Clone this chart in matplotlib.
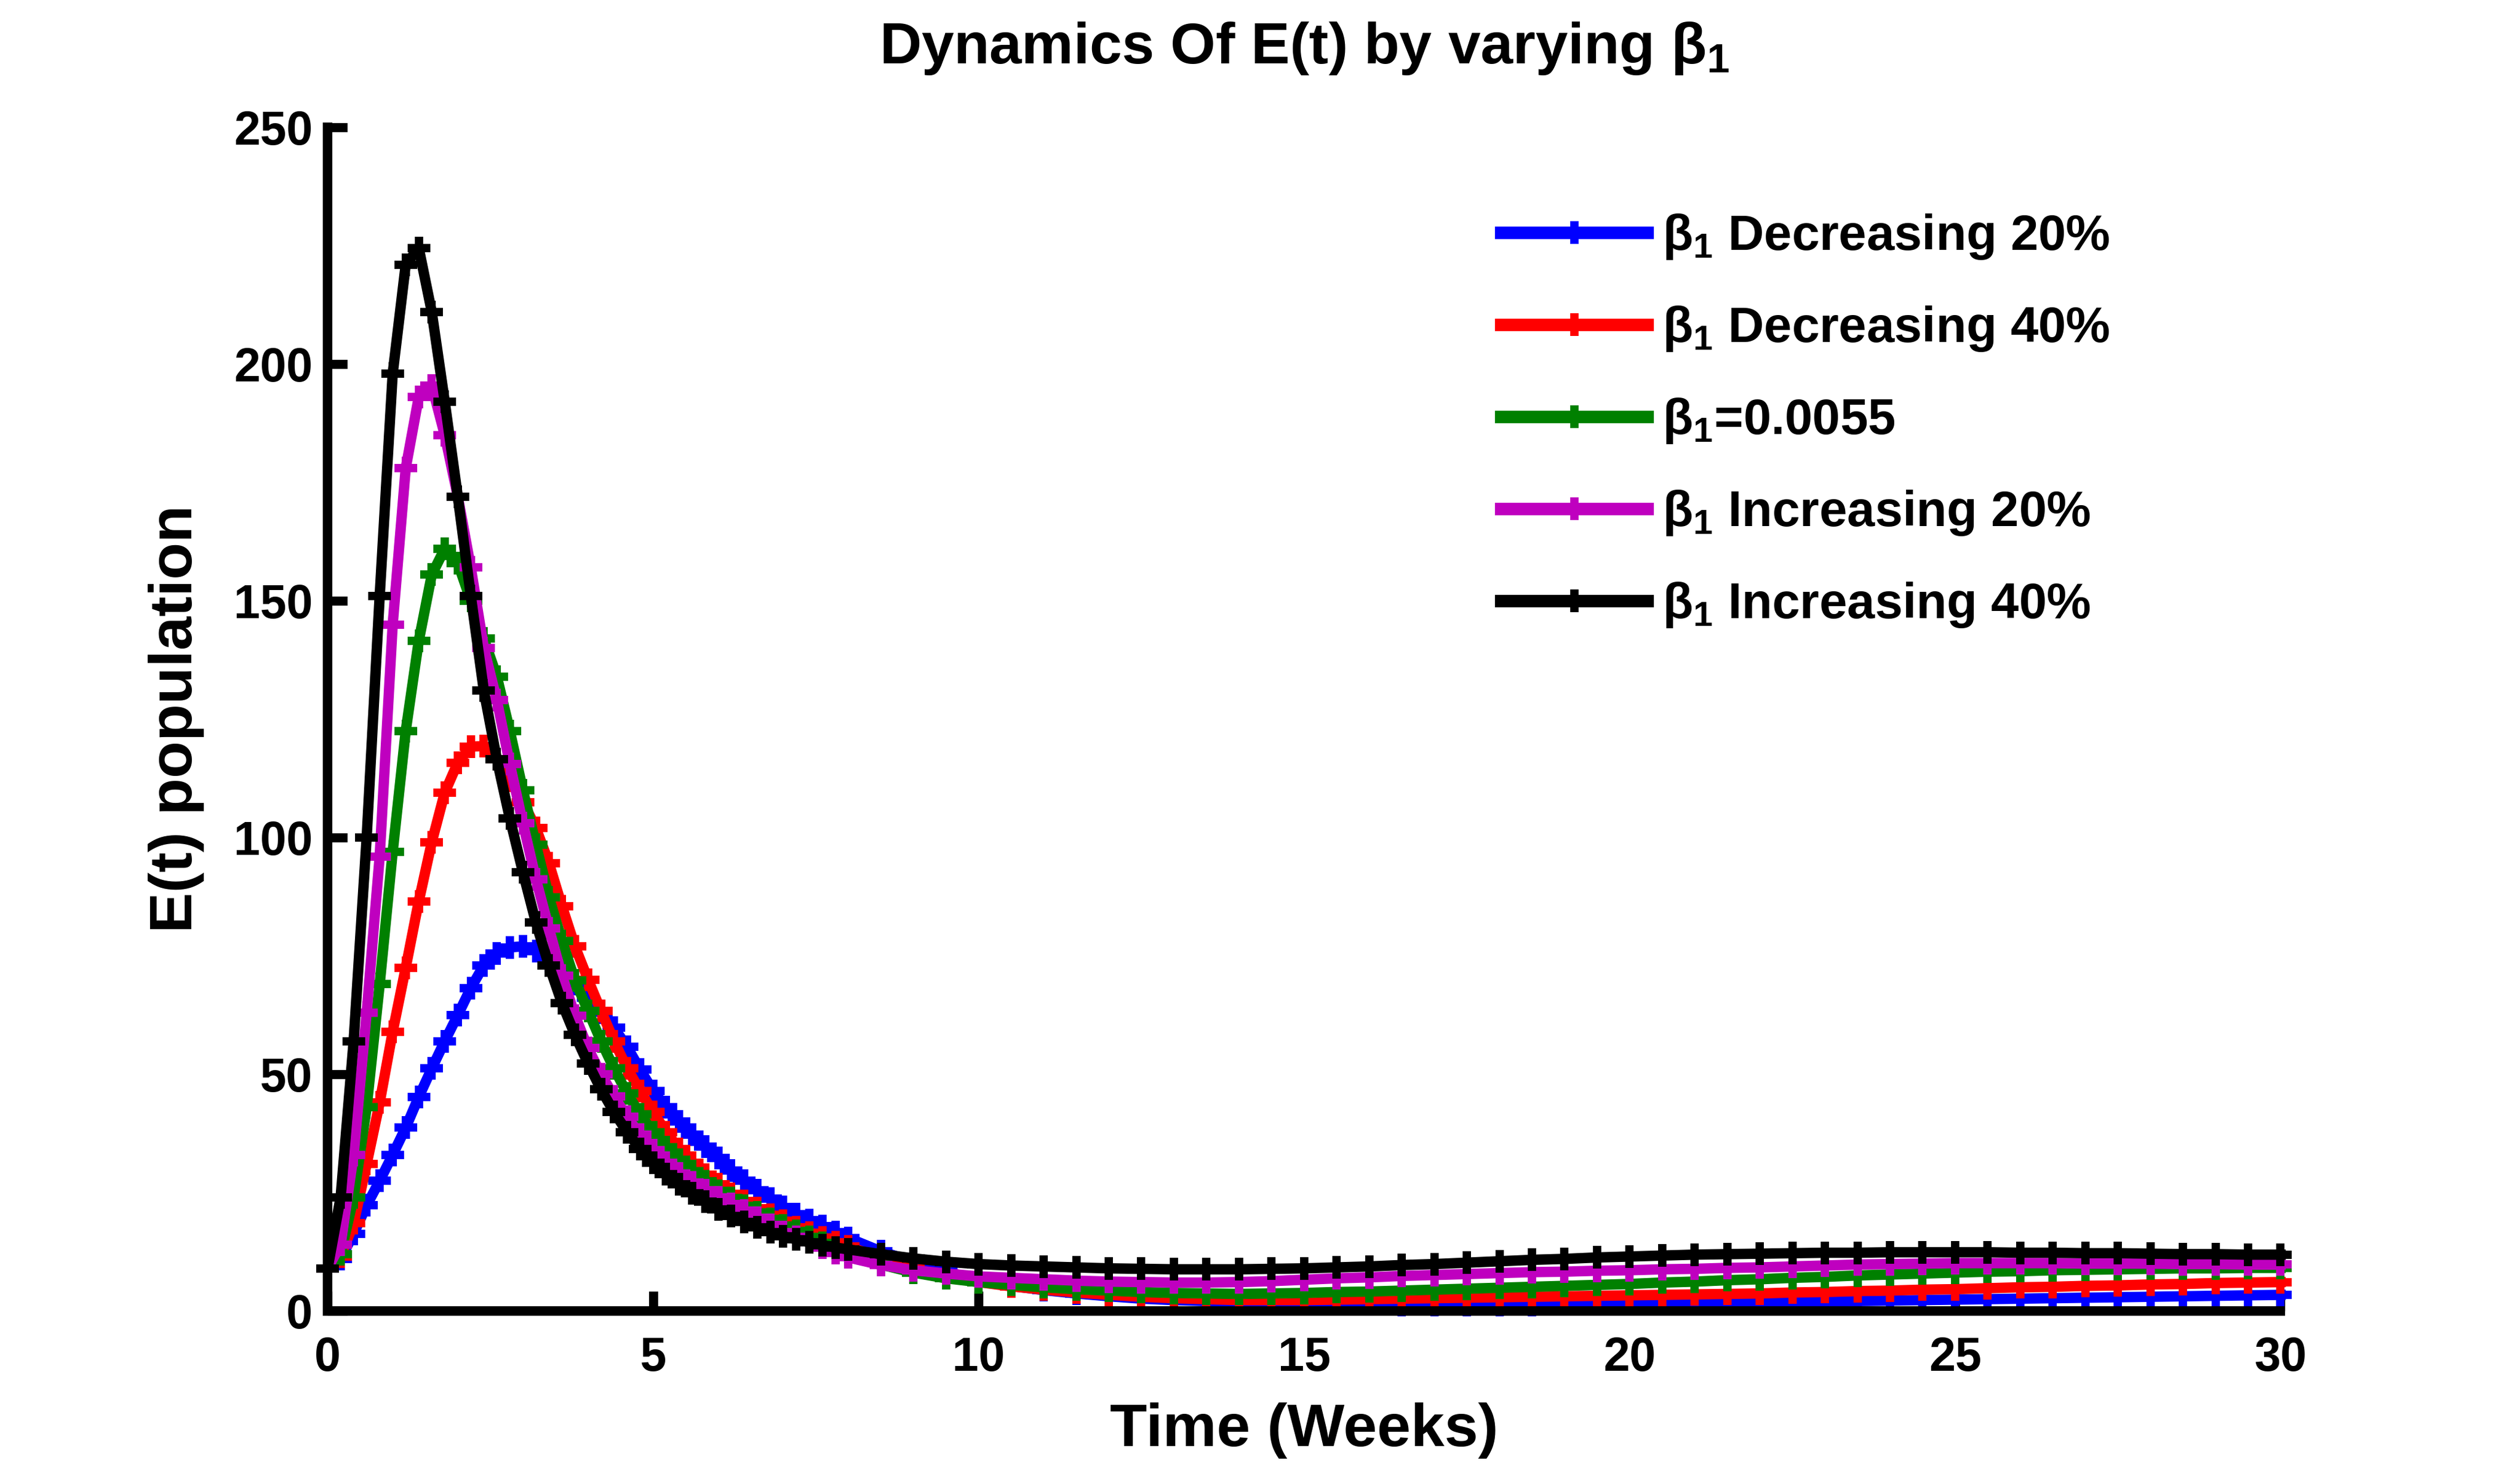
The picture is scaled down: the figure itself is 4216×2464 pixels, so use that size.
import matplotlib
matplotlib.use("Agg")
import matplotlib.pyplot as plt

plt.rcParams['font.family'] = ['Liberation Sans', 'DejaVu Sans']
plt.rcParams['font.weight'] = 'bold'
plt.rcParams['mathtext.fontset'] = 'custom'
plt.rcParams['mathtext.rm'] = 'Liberation Sans'
plt.rcParams['mathtext.it'] = 'Liberation Sans:italic'
plt.rcParams['mathtext.bf'] = 'Liberation Sans:bold'

# ---------------- data ----------------
time_weeks = [0.0, 0.2, 0.4, 0.6, 0.8, 1.0, 1.2, 1.4, 1.6, 1.8,
              2.0, 2.2, 2.4, 2.6, 2.8, 3.0, 3.2, 3.4, 3.6, 3.8,
              4.0, 4.2, 4.4, 4.6, 4.8, 5.0, 5.2, 5.4, 5.6, 5.8,
              6.0, 6.2, 6.4, 6.6, 6.8, 7.0, 7.2, 7.4, 7.6, 7.8,
              8.0, 8.5, 9.0, 9.5, 10.0, 10.5, 11.0, 11.5, 12.0, 12.5,
              13.0, 13.5, 14.0, 14.5, 15.0, 15.5, 16.0, 16.5, 17.0, 17.5,
              18.0, 18.5, 19.0, 19.5, 20.0, 20.5, 21.0, 21.5, 22.0, 22.5,
              23.0, 23.5, 24.0, 24.5, 25.0, 25.5, 26.0, 26.5, 27.0, 27.5,
              28.0, 28.5, 29.0, 29.5, 30.0]

E_dec20 = [9, 11, 16.3, 22.3, 27.5, 33, 38.7, 45.2, 51.2, 57,
           62.5, 68.2, 73, 75.5, 76.8, 77, 76, 74, 71.5, 69,
           66.2, 63, 59.8, 55.8, 51, 46.5, 43, 40, 37.3, 34.7,
           32.3, 29.7, 27.5, 25.5, 23.7, 22, 20.5, 19.2, 17.9, 16.7,
           15.4, 12.6, 10.4, 8.3, 6.5, 5.3, 4.4, 3.7, 3.1, 2.6,
           2.3, 2.1, 1.9, 1.7, 1.6, 1.5, 1.4, 1.3, 1.3, 1.3,
           1.3, 1.3, 1.4, 1.4, 1.5, 1.5, 1.6, 1.7, 1.8, 1.9,
           2.0, 2.1, 2.2, 2.3, 2.4, 2.5, 2.6, 2.7, 2.8, 2.9,
           3.0, 3.1, 3.2, 3.3, 3.4]

E_dec40 = [9, 11.5, 18.5, 31, 44, 59, 72.5, 86.5, 99, 109.5,
           115.8, 119.2, 119.3, 116.5, 112, 107.5, 102, 94.6, 85.5, 77,
           70, 63.4, 57, 51.3, 46.5, 42, 37.8, 34.2, 31.3, 28.8,
           26.7, 24.8, 23.2, 21.7, 20.3, 19.0, 17.7, 16.5, 15.5, 14.5,
           13.6, 11.2, 8.9, 7.3, 6.1, 5.2, 4.5, 3.9, 3.4, 3.0,
           2.7, 2.5, 2.3, 2.3, 2.3, 2.4, 2.5, 2.6, 2.7, 2.8,
           2.9, 3.0, 3.1, 3.2, 3.3, 3.4, 3.5, 3.6, 3.7, 3.9,
           4.0, 4.2, 4.3, 4.5, 4.6, 4.8, 5.0, 5.1, 5.3, 5.4,
           5.6, 5.7, 5.9, 6.0, 6.1]

E_base = [9, 12, 24, 43, 69, 97, 122.5, 141.5, 155.5, 161,
          158, 150, 142, 134, 122.5, 110, 98.5, 87.4, 78.2, 69.8,
          63.4, 57.0, 51.2, 46.0, 41.5, 37.8, 34.6, 32.0, 29.6, 27.4,
          25.4, 23.8, 22.2, 20.8, 19.4, 18.1, 16.9, 15.6, 14.4, 13.2,
          11.9, 9.8, 8.1, 6.9, 6.1, 5.5, 5.0, 4.6, 4.3, 4.0,
          3.8, 3.7, 3.6, 3.7, 3.8, 4.0, 4.1, 4.3, 4.5, 4.7,
          4.9, 5.1, 5.3, 5.5, 5.7, 6.0, 6.2, 6.5, 6.7, 7.0,
          7.2, 7.5, 7.7, 7.9, 8.1, 8.3, 8.4, 8.6, 8.7, 8.8,
          8.9, 9.0, 9.0, 9.1, 9.1]

E_inc20 = [9, 14, 33, 63, 96, 145, 178, 193, 195.5, 185,
           172, 157, 140, 129, 115.5, 103, 91.2, 80.8, 70.8, 62.4,
           55.5, 50.0, 45.3, 41.0, 37.2, 34.0, 31.3, 29.0, 27.2, 25.5,
           24.0, 22.6, 21.2, 19.7, 18.2, 16.7, 15.6, 14.5, 13.4, 12.3,
           11.3, 9.7, 8.6, 7.9, 7.3, 7.0, 6.7, 6.4, 6.2, 6.1,
           6.0, 6.0, 6.1, 6.3, 6.6, 6.9, 7.1, 7.4, 7.6, 7.8,
           8.0, 8.2, 8.3, 8.5, 8.6, 8.8, 8.9, 9.1, 9.2, 9.4,
           9.6, 9.8, 9.9, 10.0, 10.1, 10.1, 10.1, 10.1, 10.0, 10.0,
           10.0, 9.9, 9.9, 9.8, 9.8]

E_inc40 = [9, 24, 57, 100, 151, 198, 221, 224.5, 211, 192,
           172, 151, 131, 116.5, 104, 92.7, 82, 73, 65, 58.3,
           52.3, 46.8, 42, 37.8, 34.2, 31.3, 28.9, 26.8, 24.9, 23.1,
           21.5, 20.1, 18.8, 17.7, 16.7, 15.8, 15.1, 14.5, 13.9, 13.4,
           13.0, 12.0, 11.1, 10.4, 9.9, 9.6, 9.4, 9.2, 9.0, 8.9,
           8.8, 8.8, 8.8, 8.9, 9.0, 9.2, 9.4, 9.7, 9.9, 10.2,
           10.5, 10.8, 11.0, 11.3, 11.5, 11.7, 11.9, 12.0, 12.1, 12.2,
           12.3, 12.3, 12.4, 12.4, 12.4, 12.4, 12.3, 12.3, 12.2, 12.2,
           12.1, 12.0, 12.0, 11.9, 11.9]

series_labels = [r'$\mathrm{\beta_1}$ Decreasing 20%',
                 r'$\mathrm{\beta_1}$ Decreasing 40%',
                 r'$\mathrm{\beta_1}$=0.0055',
                 r'$\mathrm{\beta_1}$ Increasing 20%',
                 r'$\mathrm{\beta_1}$ Increasing 40%']
series_values = [E_dec20, E_dec40, E_base, E_inc20, E_inc40]
series_colors = ['#0000ff', '#ff0000', '#008000', '#bf00bf', '#000000']

x_ticks = [0, 5, 10, 15, 20, 25, 30]
y_ticks = [0, 50, 100, 150, 200, 250]

# ---------------- figure ----------------
fig = plt.figure(figsize=(42.16, 24.64), dpi=100)
ax = fig.add_axes([0.130, 0.110, 0.775, 0.8036])

for vals, col, lab in zip(series_values, series_colors, series_labels):
    ax.plot(time_weeks, vals, color=col, linewidth=12.5, marker='+',
            markersize=27, markeredgewidth=10, label=lab,
            solid_joinstyle='round', clip_on=False)

ax.set_xlim(0, 30)
ax.set_ylim(0, 250)
ax.set_xticks(x_ticks)
ax.set_yticks(y_ticks)
ax.set_xticklabels([str(v) for v in x_ticks])
ax.set_yticklabels([str(v) for v in y_ticks])

for side in ['top', 'right']:
    ax.spines[side].set_visible(False)
for side in ['left', 'bottom']:
    ax.spines[side].set_linewidth(11.5)
    ax.spines[side].set_zorder(5)
    ax.spines[side].set_capstyle('projecting')

ax.tick_params(axis='both', direction='in', length=24, width=11,
               labelsize=57)
ax.tick_params(axis='x', pad=30)
ax.tick_params(axis='y', pad=18)
for lbl in ax.get_xticklabels() + ax.get_yticklabels():
    lbl.set_fontweight('bold')

ax.set_xlabel('Time (Weeks)', fontsize=73, fontweight='bold')
ax.set_ylabel('E(t) population', fontsize=73, fontweight='bold')
ax.xaxis.set_label_coords(0.5, -0.101)
ax.xaxis.label.set_va('center')
ax.yaxis.set_label_coords(-0.0774, 0.5)
ax.yaxis.label.set_va('center')

fig.text(0.5175, 0.957, r'Dynamics Of E(t) by varying $\mathrm{\beta_1}$',
         fontsize=70, fontweight='bold', ha='center', va='baseline')

leg = ax.legend(loc='upper left', bbox_to_anchor=(0.5955, 0.856),
                bbox_transform=fig.transFigure, frameon=False,
                fontsize=60, handlelength=2.95, handletextpad=0.3,
                labelspacing=0.865, numpoints=1, borderpad=0,
                borderaxespad=0)
for txt in leg.get_texts():
    txt.set_fontweight('bold')
for h in leg.legend_handles:
    h.set_linewidth(15)

fig.savefig('out.png', dpi=100, facecolor='white')
